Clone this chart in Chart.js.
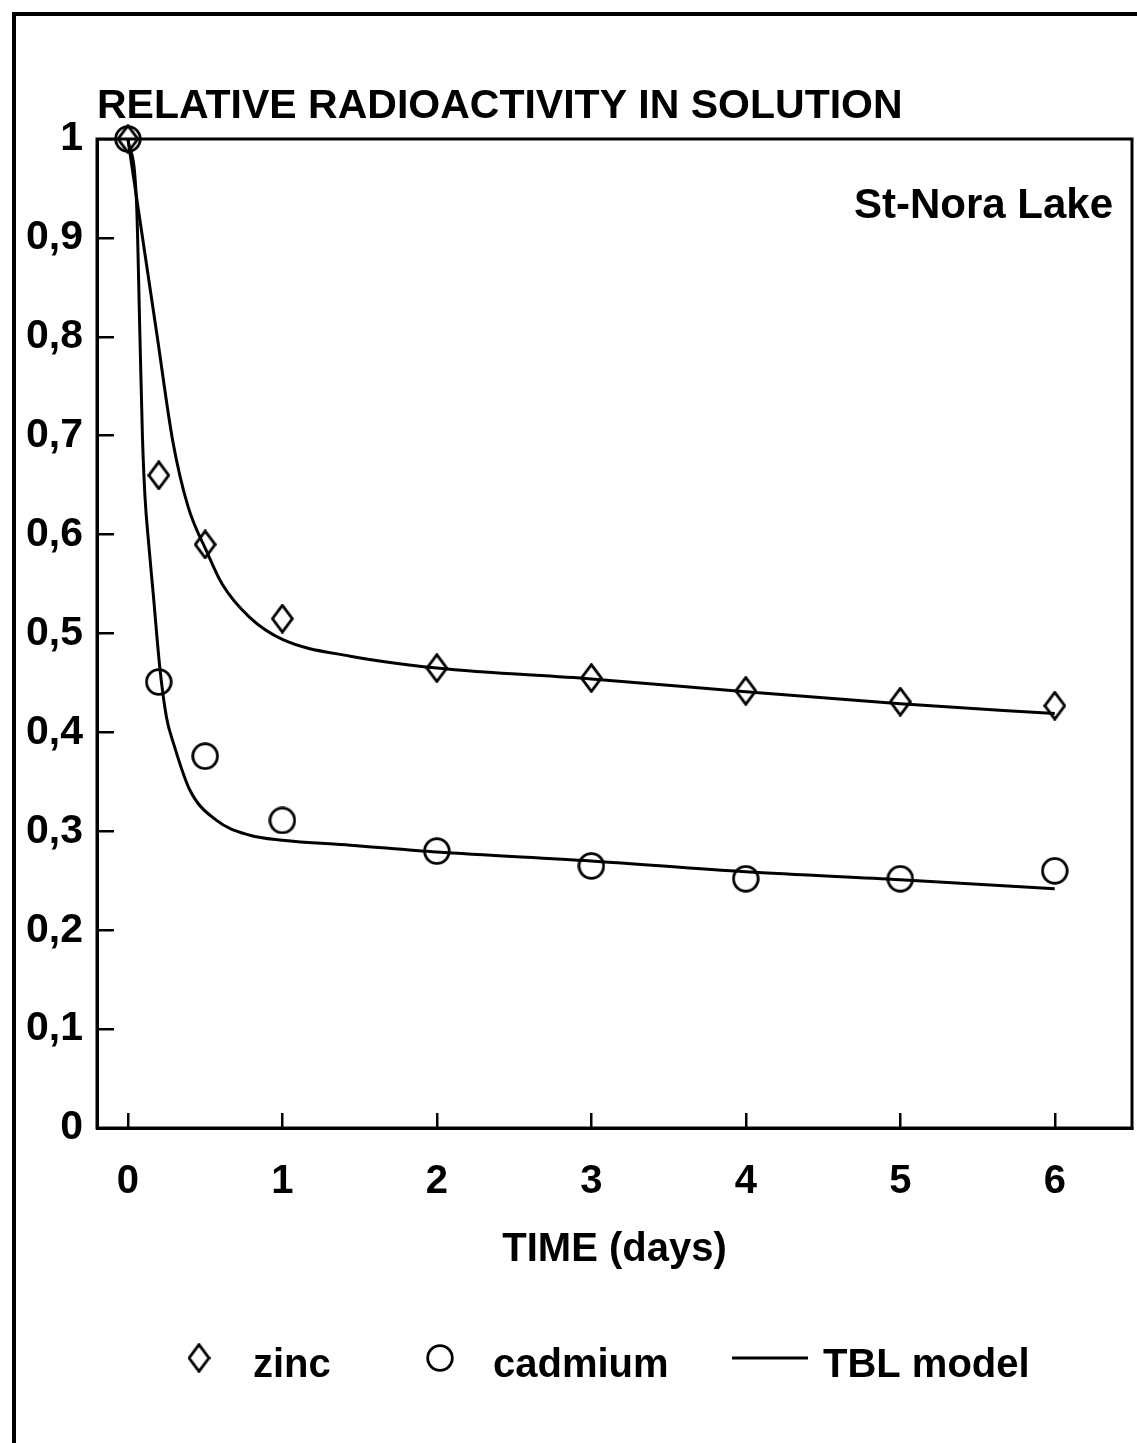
<!DOCTYPE html>
<html>
<head>
<meta charset="utf-8">
<script src="https://cdn.jsdelivr.net/npm/chart.js@4.4.0/dist/chart.umd.min.js"></script>
<style>
  html, body { margin: 0; padding: 0; background: #fff; }
  #wrap { width: 1137px; height: 1443px; position: relative; }
</style>
</head>
<body>
<div id="wrap"><canvas id="radChart"></canvas></div>
<script>
// measured points
const sampleDays = [0, 0.2, 0.5, 1, 2, 3, 4, 5, 6];
const zincValues = [1, 0.66, 0.59, 0.515, 0.465, 0.455, 0.442, 0.431, 0.427];
const cadmiumValues = [1, 0.451, 0.376, 0.311, 0.28, 0.265, 0.252, 0.252, 0.26];

// TBL model curves
const zincModelDays = [0, 0.19, 0.29, 0.39, 0.51, 0.61, 0.79, 1, 1.44, 2, 3, 4, 5, 6];
const zincModelValues = [1, 0.8, 0.695, 0.628, 0.583, 0.55, 0.516, 0.494, 0.477, 0.465, 0.454, 0.441, 0.429, 0.419];
const cadmiumModelDays = [0, 0.056, 0.078, 0.094, 0.11, 0.135, 0.164, 0.207, 0.25, 0.293, 0.4, 0.574, 0.79, 1, 1.44, 2, 3, 4, 5, 6];
const cadmiumModelValues = [1, 0.935, 0.8, 0.7, 0.64, 0.59, 0.54, 0.465, 0.415, 0.39, 0.342, 0.311, 0.296, 0.291, 0.286, 0.279, 0.27, 0.259, 0.251, 0.242];

const xTicks = [0, 1, 2, 3, 4, 5, 6];
const xTickLabels = ['0', '1', '2', '3', '4', '5', '6'];
const yTicks = [0, 0.1, 0.2, 0.3, 0.4, 0.5, 0.6, 0.7, 0.8, 0.9, 1];
const yTickLabels = ['0', '0,1', '0,2', '0,3', '0,4', '0,5', '0,6', '0,7', '0,8', '0,9', '1'];

const titleText = 'RELATIVE RADIOACTIVITY IN SOLUTION';
const siteText = 'St-Nora Lake';
const xTitle = 'TIME (days)';
const legendNames = ['zinc', 'cadmium', 'TBL model'];

const FONT = '"Liberation Sans", Arial, Helvetica, sans-serif';

function markerCanvas(kind, w, h) {
  const c = document.createElement('canvas');
  c.width = w; c.height = h;
  const g = c.getContext('2d');
  g.strokeStyle = '#000';
  g.lineWidth = 2.8;
  g.beginPath();
  if (kind === 'diamond') {
    g.moveTo(w / 2, 1.6);
    g.lineTo(w - 1.6, h / 2);
    g.lineTo(w / 2, h - 1.6);
    g.lineTo(1.6, h / 2);
    g.closePath();
  } else {
    g.arc(w / 2, h / 2, w / 2 - 1.7, 0, Math.PI * 2);
  }
  g.stroke();
  return c;
}

const diamond = markerCanvas('diamond', 23, 30);
const circle = markerCanvas('circle', 28, 28);

function pts(xs, ys) {
  return xs.map((x, i) => ({ x: x, y: ys[i] }));
}

const decor = {
  id: 'decor',
  beforeDraw(chart) {
    const ctx = chart.ctx;
    ctx.save();
    ctx.fillStyle = '#fff';
    ctx.fillRect(0, 0, chart.width, chart.height);
    // scanned page frame
    ctx.strokeStyle = '#000';
    ctx.lineWidth = 4;
    ctx.beginPath();
    ctx.moveTo(14, chart.height);
    ctx.lineTo(14, 14);
    ctx.lineTo(chart.width, 14);
    ctx.stroke();
    ctx.restore();
  },
  afterDraw(chart) {
    const ctx = chart.ctx;
    const a = chart.chartArea;
    ctx.save();
    ctx.strokeStyle = '#000';
    ctx.lineWidth = 3;
    ctx.strokeRect(a.left, a.top, a.right - a.left, a.bottom - a.top);

    ctx.fillStyle = '#000';
    ctx.textBaseline = 'alphabetic';
    ctx.textAlign = 'left';
    ctx.font = 'bold 41px ' + FONT;
    ctx.fillText(titleText, a.left, a.top - 21);
    ctx.textAlign = 'right';
    ctx.font = 'bold 42px ' + FONT;
    ctx.fillText(siteText, a.right - 19, a.top + 79);

    // legend row
    const ly = 1358;
    ctx.drawImage(diamond, 199 - diamond.width / 2, ly - diamond.height / 2);
    ctx.drawImage(circle, 440 - circle.width / 2, ly - circle.height / 2);
    ctx.lineWidth = 3;
    ctx.beginPath();
    ctx.moveTo(732, ly);
    ctx.lineTo(808, ly);
    ctx.stroke();
    ctx.textAlign = 'left';
    ctx.font = 'bold 40px ' + FONT;
    ctx.fillText(legendNames[0], 253, 1377);
    ctx.fillText(legendNames[1], 493, 1377);
    ctx.fillText(legendNames[2], 823, 1377);
    ctx.restore();
  }
};

new Chart(document.getElementById('radChart'), {
  type: 'scatter',
  data: {
    datasets: [{
      label: legendNames[0],
      data: pts(sampleDays, zincValues),
      pointStyle: diamond,
      showLine: false,
      clip: false
    }, {
      label: legendNames[1],
      data: pts(sampleDays, cadmiumValues),
      pointStyle: circle,
      showLine: false,
      clip: false
    }, {
      label: legendNames[2],
      data: pts(zincModelDays, zincModelValues),
      showLine: true,
      pointRadius: 0,
      borderColor: '#000',
      borderWidth: 3,
      cubicInterpolationMode: 'monotone'
    }, {
      label: legendNames[2] + ' cd',
      data: pts(cadmiumModelDays, cadmiumModelValues),
      showLine: true,
      pointRadius: 0,
      borderColor: '#000',
      borderWidth: 3,
      cubicInterpolationMode: 'monotone'
    }]
  },
  options: {
    responsive: true,
    maintainAspectRatio: false,
    animation: false,
    layout: { padding: { left: 0, right: 5, top: 139, bottom: 155 } },
    plugins: {
      legend: { display: false },
      tooltip: { enabled: false }
    },
    scales: {
      x: {
        type: 'linear',
        min: -0.2,
        max: 6.5,
        afterBuildTicks: s => { s.ticks = xTicks.map(v => ({ value: v })); },
        afterFit: s => { s.height = 160; },
        border: { display: true, color: '#000', width: 3 },
        grid: { drawOnChartArea: false, drawTicks: true, tickLength: -15, color: '#000', lineWidth: 2.5 },
        ticks: {
          color: '#000',
          padding: 45,
          maxRotation: 0,
          font: { family: FONT, size: 40, weight: 'bold' },
          callback: (v, i) => xTickLabels[i]
        },
        title: {
          display: true,
          text: xTitle,
          color: '#000',
          padding: { top: 0, bottom: 14 },
          font: { family: FONT, size: 40, weight: 'bold' }
        }
      },
      y: {
        min: 0,
        max: 1,
        afterBuildTicks: s => { s.ticks = yTicks.map(v => ({ value: v })); },
        afterFit: s => { s.width = 97; },
        border: { display: true, color: '#000', width: 3 },
        grid: { drawOnChartArea: false, drawTicks: true, tickLength: -17, color: '#000', lineWidth: 2.5 },
        ticks: {
          color: '#000',
          padding: 31,
          font: { family: FONT, size: 41, weight: 'bold' },
          callback: (v, i) => yTickLabels[i]
        }
      }
    }
  },
  plugins: [decor]
});
</script>
</body>
</html>
